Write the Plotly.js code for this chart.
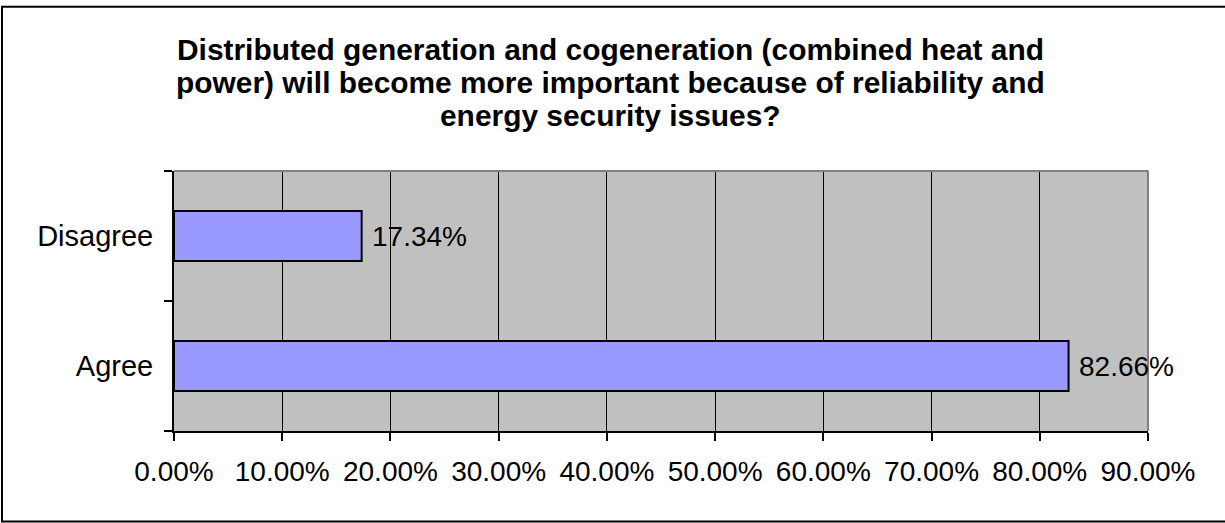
<!DOCTYPE html>
<html>
<head>
<meta charset="utf-8">
<script src="https://cdn.plot.ly/plotly-3.0.1.min.js"></script>
<style>
  html, body { margin: 0; padding: 0; background: #ffffff; }
  #chart { width: 1225px; height: 523px; }
</style>
</head>
<body>
<div id="chart"></div>
<script>
// ---- data ----
const categories = ['Agree', 'Disagree'];
const values = [82.66, 17.34];
const titleLines = [
  'Distributed generation and cogeneration (combined heat and',
  'power) will become more important because of reliability and',
  'energy security issues?'
];
const xTickVals = [0, 10, 20, 30, 40, 50, 60, 70, 80, 90];
const xTickText = xTickVals.map(v => v.toFixed(2) + '%');

// ---- layout constants (pixels) ----
const W = 1225, H = 523;
const plotL = 174, plotR = 1148, plotT = 171, plotB = 431;
const pw = plotR - plotL, ph = plotB - plotT;
const px2x = p => (p - plotL) / pw;
const py2y = p => (plotB - p) / ph;

const FONT = '"Liberation Sans", Arial, Helvetica, sans-serif';

const trace = {
  type: 'bar',
  orientation: 'h',
  x: values,
  y: categories,
  marker: { color: '#9999FF', line: { color: '#000000', width: 2 } },
  hoverinfo: 'none',
  showlegend: false
};

// title lines as annotations (for tight line spacing)
const titleCenters = [49.3, 82.0, 115.7];
const annotations = titleLines.map((t, i) => ({
  text: '<b>' + t + '</b>',
  xref: 'paper', yref: 'paper',
  x: px2x(610), y: py2y(titleCenters[i]),
  xanchor: 'center', yanchor: 'middle',
  showarrow: false,
  font: { family: FONT, size: 29.9, color: '#000000' }
}));

// value labels at bar ends
values.forEach((v, i) => {
  annotations.push({
    text: v.toFixed(2) + '%',
    xref: 'x', yref: 'y',
    x: v, y: categories[i],
    xanchor: 'left', yanchor: 'middle',
    xshift: 8,
    showarrow: false,
    font: { family: FONT, size: 28, color: '#000000' }
  });
});

const shapes = [
  // outer chart frame (right edge lies off-image)
  { type: 'rect', xref: 'paper', yref: 'paper',
    x0: px2x(2), x1: px2x(1240), y0: py2y(521.5), y1: py2y(6.8),
    line: { color: '#000000', width: 2 }, fillcolor: 'rgba(0,0,0,0)', layer: 'above' },
  // gray top and right border of plot area
  { type: 'line', xref: 'paper', yref: 'paper', x0: 0, x1: 1, y0: 1, y1: 1,
    line: { color: '#808080', width: 2 }, layer: 'above' },
  { type: 'line', xref: 'paper', yref: 'paper', x0: 1, x1: 1, y0: 0, y1: 1,
    line: { color: '#808080', width: 2 }, layer: 'above' }
];

const layout = {
  width: W, height: H,
  margin: { l: plotL, r: W - plotR, t: plotT, b: H - plotB, pad: 0 },
  paper_bgcolor: '#ffffff',
  plot_bgcolor: '#C0C0C0',
  bargap: 0.615,
  font: { family: FONT, size: 28, color: '#000000' },
  xaxis: {
    range: [0, 90],
    tickmode: 'array',
    tickvals: xTickVals,
    ticktext: xTickText,
    showgrid: true, gridcolor: '#000000', gridwidth: 1,
    zeroline: false,
    showline: true, linecolor: '#000000', linewidth: 2,
    ticks: 'outside', ticklen: 8, tickwidth: 2, tickcolor: '#000000',
    ticklabelstandoff: 6,
    tickfont: { family: FONT, size: 28, color: '#000000' },
    fixedrange: true
  },
  yaxis: {
    type: 'category',
    categoryorder: 'array', categoryarray: categories,
    range: [-0.5, 1.5],
    tickson: 'boundaries',
    showgrid: false, zeroline: false,
    showline: true, linecolor: '#000000', linewidth: 2,
    ticks: 'outside', ticklen: 8, tickwidth: 2, tickcolor: '#000000',
    ticklabelstandoff: 13,
    tickfont: { family: FONT, size: 29, color: '#000000' },
    fixedrange: true
  },
  annotations: annotations,
  shapes: shapes
};

Plotly.newPlot('chart', [trace], layout, { displayModeBar: false, staticPlot: true });
</script>
</body>
</html>
